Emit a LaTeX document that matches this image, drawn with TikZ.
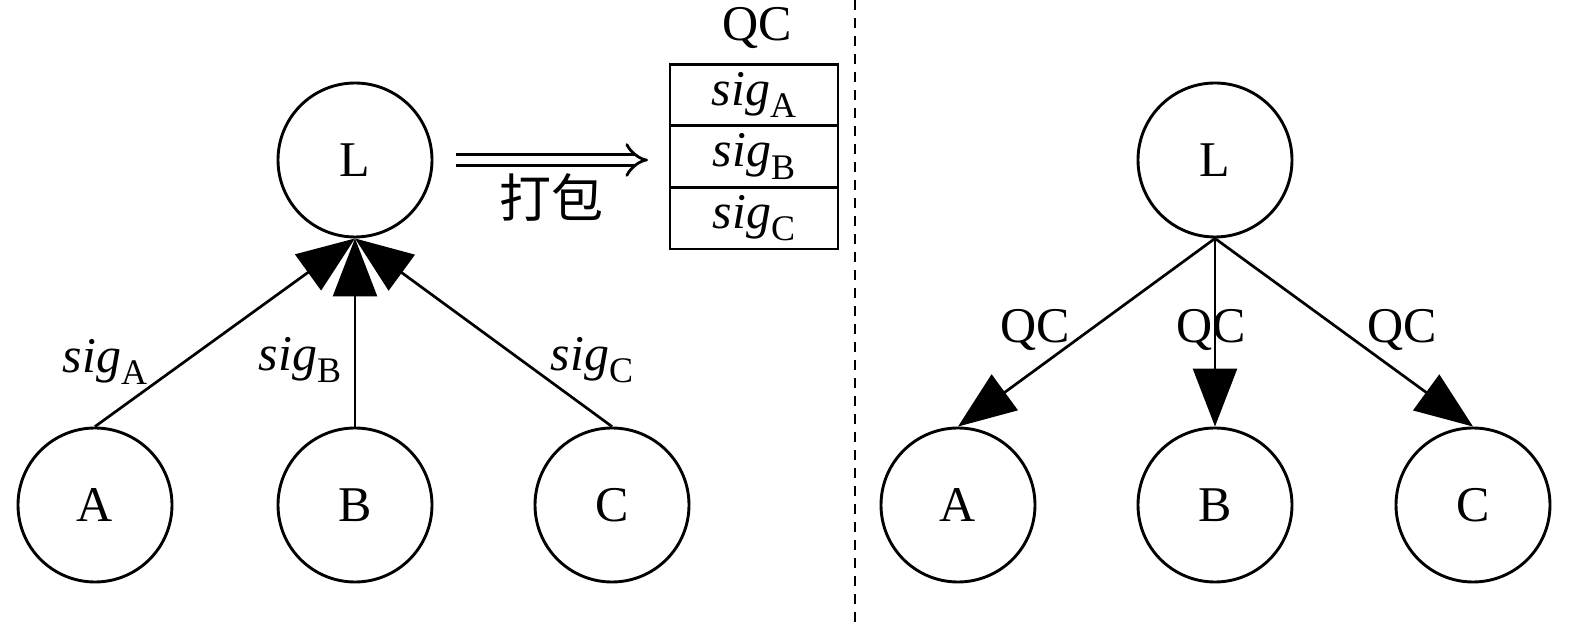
\documentclass[tikz,border=0pt]{standalone}
\usepackage{fontspec}
\setmainfont{Liberation Serif}
\newfontfamily\cjkfont{Noto Sans CJK SC}
\usetikzlibrary{arrows.meta,positioning}
\newcommand{\sigof}[1]{\textit{sig}\raisebox{-.55ex}{\fontsize{18}{19}\selectfont #1}}

\begin{document}
\begin{tikzpicture}[x=.5pt,y=-.5pt,
 every node/.style={font=\fontsize{25}{28}\selectfont},
 peer/.style={draw,circle,line width=1.45pt,minimum size=77pt,inner sep=0pt},
 cell/.style={draw,line width=1.45pt,minimum width=84pt,minimum height=30.8pt,inner sep=0pt,outer sep=0pt},
 msg/.style={-{Triangle[length=29pt,width=22pt]},line width=1.35pt},
 pack/.style={double,double distance=4.4pt,line width=1.4pt,-{Implies[scale=1.5]}}]
\useasboundingbox (0,0) rectangle (1575,624);

% left: signatures sent to the leader
\node[peer] (L1) at (355,160) {L};
\node[peer] (A1) at (95,505) {A};
\node[peer] (B1) at (355,505) {B};
\node[peer] (C1) at (612,505) {C};
\draw[msg] (A1.north)--(L1.south);
\draw[msg] (B1.north)--(L1.south);
\draw[msg] (C1.north)--(L1.south);
\node (sA) at (105,362) {\sigof{A}};
\node (sB) at (300,360) {\sigof{B}};
\node (sC) at (592,360) {\sigof{C}};

% packed certificate
\node[cell] (qcA) at (754,95) {\sigof{A}};
\node[cell,below=0pt of qcA] (qcB) {\sigof{B}};
\node[cell,below=0pt of qcB] (qcC) {\sigof{C}};
\node (qc) at (757,28) {QC};
\draw[pack,shorten <=11.5pt,shorten >=11pt] (L1.east)--(L1.east-|qcB.west)
 node[midway,below=3pt,font=\fontsize{26}{28}\cjkfont] (pk) {打包};

\draw[line width=1pt,dash pattern=on 5pt off 4pt] (855,0)--(855,624);

% right: leader broadcasts QC
\node[peer] (L2) at (1215,160) {L};
\node[peer] (A2) at (958,505) {A};
\node[peer] (B2) at (1215,505) {B};
\node[peer] (C2) at (1473,505) {C};
\draw[msg] (L2.south)--(A2.north);
\draw[msg] (L2.south)--(B2.north);
\draw[msg] (L2.south)--(C2.north);
\node (qA) at (1035,330) {QC};
\node (qB) at (1211,330) {QC};
\node (qCC) at (1402,330) {QC};
\end{tikzpicture}
\end{document}
